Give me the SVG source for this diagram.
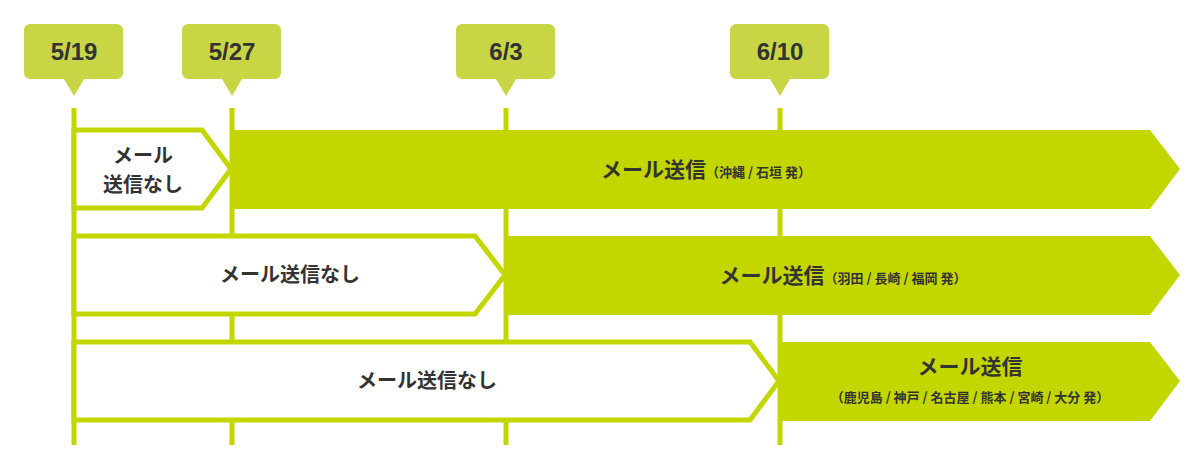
<svg xmlns="http://www.w3.org/2000/svg" width="1200" height="470" viewBox="0 0 1200 470">
<style>
.vl{stroke:#c4d600;stroke-width:5}
.tag{fill:#c8d645}
.tt{font-family:"Liberation Sans",Arial,sans-serif;font-weight:bold;font-size:24px;fill:#333;text-anchor:middle}
.w{fill:#fff;stroke:#c4d600;stroke-width:5}
.g{fill:#c4d600}
.l{font-family:"Noto Sans CJK JP","Liberation Sans",sans-serif;font-weight:bold;fill:#333;text-anchor:middle}
</style>
<rect width="1200" height="470" fill="#fff"/>
<g id="connectors">
<line class="vl" x1="74" y1="108" x2="74" y2="445"/>
<line class="vl" x1="232" y1="108" x2="232" y2="445"/>
<line class="vl" x1="506" y1="108" x2="506" y2="445"/>
<line class="vl" x1="780" y1="108" x2="780" y2="445"/>
</g>
<g id="t519"><path class="tag" d="M30 24h87a6 6 0 0 1 6 6v43a6 6 0 0 1-6 6h-33l-10 17l-10-17h-34a6 6 0 0 1-6-6v-43a6 6 0 0 1 6-6z"/><text class="tt" x="74" y="60">5/19</text></g>
<g id="t527"><path class="tag" d="M188 24h87a6 6 0 0 1 6 6v43a6 6 0 0 1-6 6h-33l-10 17l-10-17h-34a6 6 0 0 1-6-6v-43a6 6 0 0 1 6-6z"/><text class="tt" x="232" y="60">5/27</text></g>
<g id="t63"><path class="tag" d="M462 24h87a6 6 0 0 1 6 6v43a6 6 0 0 1-6 6h-33l-10 17l-10-17h-34a6 6 0 0 1-6-6v-43a6 6 0 0 1 6-6z"/><text class="tt" x="506" y="60">6/3</text></g>
<g id="t610"><path class="tag" d="M736 24h87a6 6 0 0 1 6 6v43a6 6 0 0 1-6 6h-33l-10 17l-10-17h-34a6 6 0 0 1-6-6v-43a6 6 0 0 1 6-6z"/><text class="tt" x="780" y="60">6/10</text></g>
<g id="r1n"><path class="w" d="M74 130H202L231 169L202 208H74Z"/><text class="l" font-size="20" x="143" y="163">メール</text><text class="l" font-size="20" x="143" y="192">送信なし</text></g>
<g id="r1s"><path class="g" d="M232 130H1150L1180 169L1150 209H232Z"/><text class="l" x="706" y="177"><tspan font-size="21">メール送信</tspan><tspan font-size="13">（沖縄 / 石垣 発）</tspan></text></g>
<g id="r2n"><path class="w" d="M74 236H475L505 275L475 314H74Z"/><text class="l" font-size="20" x="290" y="282">メール送信なし</text></g>
<g id="r2s"><path class="g" d="M506 236H1150L1180 275L1150 315H506Z"/><text class="l" x="843" y="283"><tspan font-size="21">メール送信</tspan><tspan font-size="13">（羽田 / 長崎 / 福岡 発）</tspan></text></g>
<g id="r3n"><path class="w" d="M74 342H750L779 381L750 420H74Z"/><text class="l" font-size="20" x="427" y="388">メール送信なし</text></g>
<g id="r3s"><path class="g" d="M780 342H1150L1180 381L1150 421H780Z"/><text class="l" font-size="21" x="970" y="374">メール送信</text><text class="l" font-size="13" x="970" y="402">（鹿児島 / 神戸 / 名古屋 / 熊本 / 宮崎 / 大分 発）</text></g>
</svg>
